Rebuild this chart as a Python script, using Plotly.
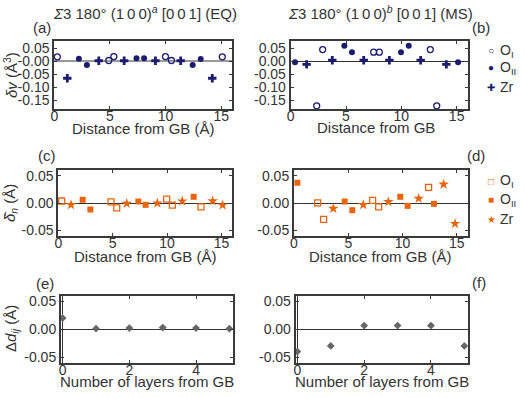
import plotly.graph_objects as go

# ---- data ----
# (a) EQ, volume change
a_OI_x = [0.27, 4.90, 5.35, 9.99, 10.53, 15.10]
a_OI_y = [0.017, 0.003, 0.018, 0.018, 0.003, 0.017]
a_OII_x = [2.21, 2.93, 7.39, 8.07, 12.44, 13.16]
a_OII_y = [0.010, -0.014, 0.012, 0.012, -0.014, 0.009]
a_Zr_x = [1.17, 4.00, 6.28, 9.09, 11.36, 14.20]
a_Zr_y = [-0.065, 0.002, 0.002, 0.002, 0.002, -0.065]
# (b) MS, volume change
b_OI_x = [2.35, 2.89, 7.50, 8.01, 12.62, 13.20]
b_OI_y = [-0.171, 0.045, 0.035, 0.035, 0.045, -0.171]
b_OII_x = [0.39, 4.85, 5.54, 9.97, 10.67, 15.13]
b_OII_y = [-0.004, 0.060, 0.035, 0.035, 0.060, -0.004]
b_Zr_x = [1.44, 3.76, 6.60, 8.92, 11.75, 14.07]
b_Zr_y = [-0.012, 0.004, 0.004, 0.004, 0.004, -0.012]
# (c) EQ, displacement
c_OI_x = [0.31, 4.85, 5.37, 9.96, 10.49, 13.12]
c_OI_y = [0.004, 0.0025, -0.0086, 0.0074, -0.0037, -0.0068]
c_OII_x = [2.24, 2.95, 7.36, 8.03, 12.45]
c_OII_y = [0.0062, -0.0117, 0.0031, -0.0031, 0.0117]
c_Zr_x = [1.17, 6.29, 9.11, 11.40, 14.19, 15.11]
c_Zr_y = [-0.003, -0.0006, 0.0, 0.0037, 0.004, -0.0037]
# (d) MS, displacement
d_OI_x = [2.18, 2.73, 7.24, 7.80, 12.40]
d_OI_y = [0.0006, -0.030, 0.005, -0.0068, 0.029]
d_OII_x = [0.31, 4.67, 5.37, 9.79, 10.47, 12.89]
d_OII_y = [0.0376, 0.003, -0.013, 0.0117, -0.005, -0.0012]
d_Zr_x = [3.62, 6.38, 8.69, 11.48, 13.78, 14.83]
d_Zr_y = [-0.0099, -0.003, 0.0025, 0.0086, 0.0346, -0.0377]
# (e)/(f) interlayer spacing change
layers = [0, 1, 2, 3, 4, 5]
e_dd = [0.020, 0.001, 0.002, 0.003, 0.002, 0.001]
f_dd = [-0.040, -0.030, 0.0065, 0.0065, 0.0065, -0.030]

W, H = 526, 398
navy = "#1c1c6e"
orange = "#e8650e"
grey = "#666666"
txt = "#333333"
FONT = "Liberation Sans"

def px(x, y):
    return x / W, 1 - y / H

fig = go.Figure()

def pts(p, x, y, sym, col, size, lw=0):
    s = "" if p == 1 else str(p)
    fig.add_trace(go.Scatter(x=x, y=y, mode="markers", xaxis="x" + s, yaxis="y" + s,
                             marker=dict(symbol=sym, size=size, color=col,
                                         line=dict(color=col, width=lw)),
                             showlegend=False, cliponaxis=False))

pts(1, a_OI_x, a_OI_y, "circle-open", navy, 6, 1.3)
pts(1, a_OII_x, a_OII_y, "circle", navy, 6)
pts(1, a_Zr_x, a_Zr_y, "cross", navy, 7)
pts(2, b_OI_x, b_OI_y, "circle-open", navy, 6, 1.3)
pts(2, b_OII_x, b_OII_y, "circle", navy, 6)
pts(2, b_Zr_x, b_Zr_y, "cross", navy, 7)
pts(3, c_OI_x, c_OI_y, "square-open", orange, 6, 1.3)
pts(3, c_OII_x, c_OII_y, "square", orange, 6)
pts(3, c_Zr_x, c_Zr_y, "star", orange, 8)
pts(4, d_OI_x, d_OI_y, "square-open", orange, 6, 1.3)
pts(4, d_OII_x, d_OII_y, "square", orange, 6)
pts(4, d_Zr_x, d_Zr_y, "star", orange, 8)
pts(5, layers, e_dd, "diamond", grey, 6)
pts(6, layers, f_dd, "diamond", grey, 6)

# axes boxes in pixels: (left, right, top, bottom)
boxes = {1: (54.3, 232.3, 40.7, 109), 2: (290.7, 467.7, 40.7, 109),
         3: (58.3, 232.3, 170, 236.3), 4: (294, 467.7, 170, 236.3),
         5: (61, 232.7, 295.7, 362.7), 6: (295.7, 467.7, 295.7, 362.7)}
dist_ticks = [0, 5, 10, 15]
layer_ticks = [0, 2, 4]
top_ticks = [-0.15, -0.10, -0.05, 0.0, 0.05]
small_ticks = [-0.05, 0.0, 0.05]

lay = {}
for p, (l, r, t, b) in boxes.items():
    s = "" if p == 1 else str(p)
    if p <= 4:
        xr, xt, xz = [0, 16], dist_ticks, False
    else:
        xr, xt, xz = [-0.05, 5.1], layer_ticks, True
    if p <= 2:
        yr, yt = [-0.183, 0.079], top_ticks
        ytxt = ["-0.15", "-0.10", "-0.05", "-0.00" if p == 1 else "0.00", "0.05"]
    else:
        yr, yt = ([-0.061, 0.061] if p <= 4 else [-0.06, 0.06]), small_ticks
        ytxt = ["-0.05", "0.00", "0.05"]
    common = dict(showline=True, linecolor="#3a3a3a", linewidth=2, mirror="ticks",
                  ticks="inside", ticklen=3, tickcolor="#3a3a3a", showgrid=False,
                  automargin=False, tickfont=dict(size=14, color=txt, family=FONT))
    lay["xaxis" + s] = dict(domain=[l / W, r / W], range=xr, anchor="y" + s,
                            tickvals=xt, ticktext=[str(v) for v in xt], ticklabelstandoff=-7,
                            zeroline=xz, zerolinecolor=txt, zerolinewidth=1, **common)
    lay["yaxis" + s] = dict(domain=[1 - b / H, 1 - t / H], range=yr, anchor="x" + s,
                            tickvals=yt, ticktext=ytxt, zeroline=True,
                            zerolinecolor="#999999" if p == 1 else txt,
                            zerolinewidth=2 if p == 1 else 1, **common)

ann = []
def label(x, y, text, size=15, xanchor="center", angle=0, color=txt):
    ax, ay = px(x, y)
    ann.append(dict(x=ax, y=ay, xref="paper", yref="paper", text=text, showarrow=False,
                    xanchor=xanchor, yanchor="middle", textangle=angle,
                    font=dict(size=size, color=color, family=FONT)))

label(145, 13, "<i>Σ</i>3 180° (1\u20090\u20090)<sup><i>a</i></sup> [0\u20090\u20091] (EQ)")
label(380, 13, "<i>Σ</i>3 180° (1\u20090\u20090)<sup><i>b</i></sup> [0\u20090\u20091] (MS)")
for name, x, y in [("(a)", 42, 27), ("(b)", 481, 27), ("(c)", 47, 155),
                   ("(d)", 476, 155.5), ("(e)", 45, 283), ("(f)", 479, 282)]:
    label(x, y, name)

label(143.3, 128, "Distance from GB (Å)")
label(314.7, 127, "Distance from GB", xanchor="left")
label(425, 128, ".", size=8)
label(145.3, 256, "Distance from GB (Å)")
label(380.8, 256, "Distance from GB (Å)")
label(146.8, 381, "Number of layers from GB")
label(381.7, 381, "Number of layers from GB")

label(10, 75, "<i>δv</i> (Å<sup>3</sup>)", angle=-90)
label(10, 203, "<i>δ̄<sub>n</sub></i> (Å)", angle=-90)
label(11, 329, "Δ<i>d<sub>ij</sub></i> (Å)", angle=-90)

# legends
for sym, name, y in [("○", "O<sub>I</sub>", 51), ("●", "O<sub>II</sub>", 68), ("✚", "Zr", 87)]:
    label(491, y, sym, size=10, color=navy)
    label(498, y, name, xanchor="left", size=14)
for sym, name, y in [("□", "O<sub>I</sub>", 181), ("■", "O<sub>II</sub>", 200), ("★", "Zr", 219)]:
    label(491, y, sym, size=10, color=orange)
    label(498, y, name, xanchor="left", size=14)

fig.update_layout(template="none", width=W, height=H, margin=dict(l=0, r=0, t=0, b=0),
                  paper_bgcolor="white", plot_bgcolor="white", showlegend=False,
                  font=dict(family=FONT, color=txt), annotations=ann, **lay)
fig.write_html("out.html", post_script="document.body.style.margin='0px';",
               config={"displayModeBar": False})
